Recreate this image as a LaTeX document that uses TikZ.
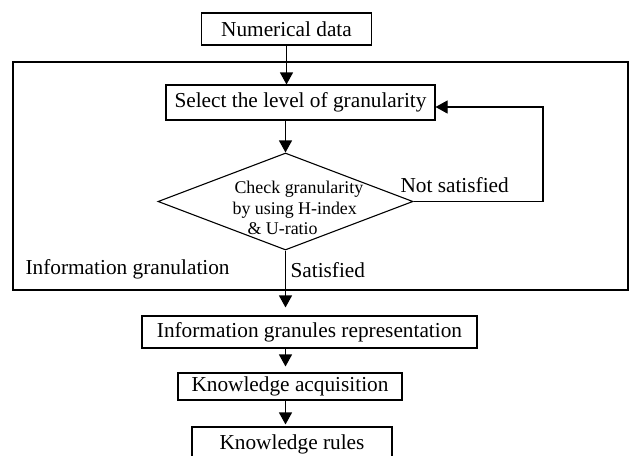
\documentclass[tikz,border=0pt]{standalone}
\usepackage{fontspec}
\setmainfont{Liberation Serif}
\usetikzlibrary{arrows.meta,shapes.geometric}
\begin{document}
\begin{tikzpicture}[x=1pt,y=-1pt,
  line width=1.1pt,
  mainfont/.style={font=\fontsize{21.3}{25}\selectfont},
  smallfont/.style={font=\fontsize{17.9}{21}\selectfont},
  boxnode/.style={draw,rectangle,inner sep=0pt,mainfont},
  lbl/.style={inner sep=0pt,anchor=base west,mainfont},
  dlbl/.style={inner sep=0pt,anchor=base west,smallfont},
  arr/.style={-{Triangle[length=12pt,width=13pt]}}]
\useasboundingbox (0,0) rectangle (631,455);
% outer frame
\node[draw,rectangle,inner sep=0pt,minimum width=615pt,minimum height=228pt] (outer) at (320.5,176) {};
% boxes
\node[boxnode,minimum width=170pt,minimum height=32pt] (num) at (286.5,29) {Numerical data};
\node[boxnode,minimum width=269pt,minimum height=35pt] (sel) at (300.5,102.5) {Select the level of granularity};
\node[draw,diamond,inner sep=0pt,minimum width=255pt,minimum height=97pt] (dia) at (285.5,201.5) {};
\node[boxnode,minimum width=335pt,minimum height=32pt] (igr) at (309.5,332) {Information granules representation};
\node[boxnode,minimum width=224pt,minimum height=27pt] (ka) at (290,386.5) {Knowledge acquisition};
\node[boxnode,minimum width=200pt,minimum height=34pt] (kr) at (292,444) {Knowledge rules};
% diamond text
\node[dlbl] (d1) at (234,193) {Check granularity};
\node[dlbl] (d2) at (232,214) {by using H-index};
\node[dlbl] (d3) at (247,234) {\& U-ratio};
% labels
\node[lbl] (ns) at (400,192) {Not satisfied};
\node[lbl] (sat) at (290,277) {Satisfied};
\node[lbl] (ig) at (25,274) {Information granulation};
% connectors
\draw[arr] (num.south) -- (num.south |- sel.north);
\draw[arr] (dia.north |- sel.south) -- (dia.north);
\coordinate (fb1) at (543,201.5);
\coordinate (fb2) at (543,107);
\draw[arr] (dia.east) -- (fb1) -- (fb2) -- (sel.east |- fb2);
\draw[arr,shorten >=8pt] (dia.south) -- (dia.south |- igr.north);
\draw[arr,shorten >=6pt] (igr.south -| dia.south) -- (dia.south |- ka.north);
\draw[arr,shorten >=2pt] (ka.south -| dia.south) -- (dia.south |- kr.north);
\end{tikzpicture}
\end{document}
